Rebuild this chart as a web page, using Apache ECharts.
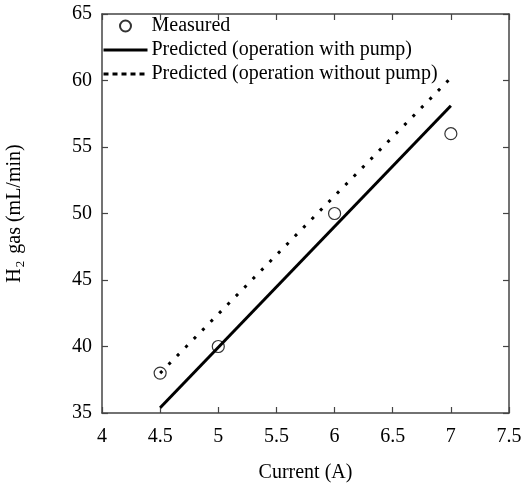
<!DOCTYPE html>
<html><head><meta charset="utf-8">
<script src="https://cdn.jsdelivr.net/npm/echarts@6/dist/echarts.min.js"></script>
<style>html,body{margin:0;padding:0;background:#fff}#c{width:521px;height:485px}</style>
</head><body><div id="c"></div>
<script>
const measuredX = [4.5, 5, 6, 7];
const measuredY = [38, 40, 50, 56];
const withPumpX = [4.5, 7];
const withPumpY = [35.4, 58.1];
const withoutPumpX = [4.5, 7];
const withoutPumpY = [38, 60.2];
const xTicks = [4, 4.5, 5, 5.5, 6, 6.5, 7, 7.5];
const yTicks = [35, 40, 45, 50, 55, 60, 65];

const F = 'Liberation Serif';
const FS = 20;
const axisCol = '#444';
const chart = echarts.init(document.getElementById('c'));
const zip = (a, b) => a.map((v, i) => [v, b[i]]);
const baseX = {type:'value', min:xTicks[0], max:xTicks[xTicks.length-1], interval:0.5,
  splitLine:{show:false}, axisLine:{onZero:false, lineStyle:{color:axisCol,width:1.5}},
  axisTick:{inside:true, length:6, lineStyle:{color:axisCol,width:1.2}}};
const baseY = {type:'value', min:yTicks[0], max:yTicks[yTicks.length-1], interval:5,
  splitLine:{show:false}, axisLine:{onZero:false, lineStyle:{color:axisCol,width:1.5}},
  axisTick:{inside:true, length:6, lineStyle:{color:axisCol,width:1.2}}};
chart.setOption({
  animation:false,
  backgroundColor:'#fff',
  grid:{left:102, right:12, top:14, bottom:72, containLabel:false, outerBoundsMode:'none'},
  legend:{orient:'vertical', left:102, top:16, itemWidth:44, itemHeight:11, itemGap:4, padding:[0,0,0,0],
    textStyle:{fontFamily:F, fontSize:FS, color:'#000', padding:[0,0,0,-1]},
    data:[
      {name:'Measured'},
      {name:'Predicted (operation with pump)', itemStyle:{opacity:0}, lineStyle:{width:3}},
      {name:'Predicted (operation without pump)', itemStyle:{opacity:0}, lineStyle:{type:[5,4], width:3}}
    ]},
  xAxis:[Object.assign({}, baseX, {position:'bottom', name:'Current (A)', nameLocation:'middle', nameGap:50,
      nameTextStyle:{fontFamily:F, fontSize:FS, color:'#000'},
      axisLabel:{fontFamily:F, fontSize:FS, color:'#000', margin:14, formatter:v=>String(v)}}),
    Object.assign({}, baseX, {position:'top', axisLabel:{show:false}})],
  yAxis:[Object.assign({}, baseY, {position:'left', name:'{a|H}{s|2}{a| gas (mL/min)}', nameLocation:'middle', nameGap:75,
      nameTextStyle:{fontFamily:F, fontSize:FS, color:'#000', rich:{a:{fontFamily:F,fontSize:FS,color:'#000'}, s:{fontFamily:F,fontSize:13,color:'#000',verticalAlign:'bottom',padding:[12,2,0,1]}}},
      axisLabel:{fontFamily:F, fontSize:FS, color:'#000', margin:10}}),
    Object.assign({}, baseY, {position:'right', axisLabel:{show:false}})],
  series:[
    {name:'Measured', type:'scatter', data:zip(measuredX, measuredY), symbol:'circle', symbolSize:12,
      itemStyle:{color:'rgba(0,0,0,0)', borderColor:'#000', borderWidth:1.2}, z:5},
    {name:'Predicted (operation with pump)', type:'line', data:zip(withPumpX, withPumpY), symbol:'none', showSymbol:false,
      lineStyle:{color:'#000', width:3}, itemStyle:{color:'#000'}},
    {name:'Predicted (operation without pump)', type:'line', data:zip(withoutPumpX, withoutPumpY), symbol:'none', showSymbol:false,
      lineStyle:{color:'#000', width:3, type:[3,9]}, itemStyle:{color:'#000'}}
  ]
});
</script></body></html>
